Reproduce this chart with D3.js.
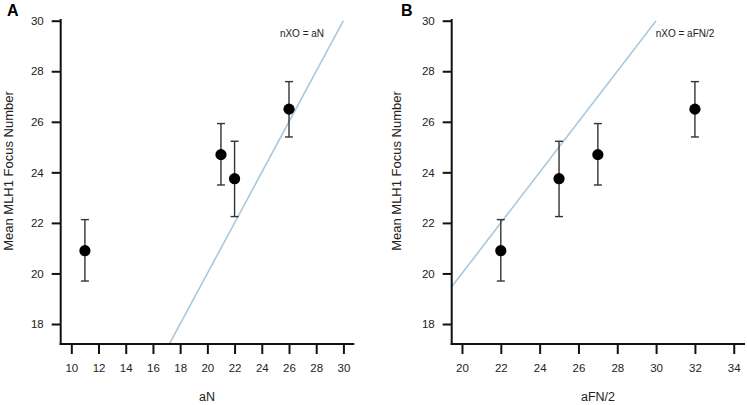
<!DOCTYPE html>
<html><head><meta charset="utf-8">
<script src="https://cdn.jsdelivr.net/npm/d3@7"></script>
<style>body{margin:0;background:#fff}svg{display:block;font-family:"Liberation Sans",Arial,sans-serif}</style>
</head><body><svg id="c" width="747" height="405"></svg>
<script>
// data
const meanFoci = [20.9, 24.7, 23.75, 26.5];
const errLow  = [19.7, 23.5, 22.25, 25.4];
const errHigh = [22.13, 25.93, 25.23, 27.59];
const aN      = [11, 21, 22, 26];
const aFNhalf = [22, 27, 25, 32];
const yTicks  = [18, 20, 22, 24, 26, 28, 30];
const xTicksA = [10, 12, 14, 16, 18, 20, 22, 24, 26, 28, 30];
const xTicksB = [20, 22, 24, 26, 28, 30, 32, 34];
const yDomain = [18, 30];
const xDomainA = [9.22, 30.8];
const xDomainB = [19.47, 34.58];
const lineA = [17.2, 30];
const lineB = [19.47, 30];

const svg = d3.select("#c");

function panel(o) {
  const g = svg.append("g");
  const x = d3.scaleLinear().domain(o.xDomain).range([o.left, o.right]);
  const y = d3.scaleLinear().domain(yDomain).range([324, 20.7]);

  // identity line
  g.append("line")
    .attr("x1", x(o.line[0])).attr("y1", y(o.line[0]))
    .attr("x2", x(o.line[1])).attr("y2", y(o.line[1]))
    .attr("stroke", "#a9c8dc").attr("stroke-width", 1.6);

  // y axis
  const yAxis = d3.axisLeft(y).tickValues(yTicks).tickSize(9).tickPadding(8);
  const ga = g.append("g").attr("transform", `translate(${o.left},0)`).call(yAxis);
  ga.select(".domain").remove();
  g.append("line").attr("x1", o.left).attr("x2", o.left).attr("y1", 19).attr("y2", 345)
    .attr("stroke", "#111").attr("stroke-width", 2);
  ga.selectAll(".tick line").attr("stroke", "#111").attr("stroke-width", 2);
  ga.selectAll(".tick text").attr("font-size", 11.5).attr("fill", "#222");

  // x axis
  const xAxis = d3.axisBottom(x).tickValues(o.xTicks).tickSize(10).tickPadding(10);
  const gx = g.append("g").attr("transform", "translate(0,344)").call(xAxis);
  gx.select(".domain").remove();
  g.append("line").attr("x1", o.left - 1).attr("x2", o.right).attr("y1", 344).attr("y2", 344)
    .attr("stroke", "#111").attr("stroke-width", 2);
  gx.selectAll(".tick line").attr("stroke", "#111").attr("stroke-width", 2);
  gx.selectAll(".tick text").attr("font-size", 11.5).attr("fill", "#222");

  // error bars and points
  d3.range(meanFoci.length).forEach(i => {
    const cx = x(o.xs[i]);
    g.append("line").attr("x1", cx).attr("x2", cx).attr("y1", y(errLow[i])).attr("y2", y(errHigh[i]))
      .attr("stroke", "#333").attr("stroke-width", 1.4);
    [errLow[i], errHigh[i]].forEach(v => {
      g.append("line").attr("x1", cx - 4).attr("x2", cx + 4).attr("y1", y(v)).attr("y2", y(v))
        .attr("stroke", "#333").attr("stroke-width", 1.4);
    });
    g.append("circle").attr("cx", cx).attr("cy", y(meanFoci[i])).attr("r", 5.6).attr("fill", "#000");
  });

  // texts
  g.append("text").attr("x", o.labelX).attr("y", 37).attr("text-anchor", "middle")
    .attr("font-size", 10).attr("fill", "#222").text(o.label);
  g.append("text").attr("x", o.titleX).attr("y", 401).attr("text-anchor", "middle")
    .attr("font-size", 12.5).attr("fill", "#222").text(o.xTitle);
  g.append("text").attr("transform", `translate(${o.yTitleX},171) rotate(-90)`).attr("text-anchor", "middle")
    .attr("font-size", 13).attr("fill", "#222").text("Mean MLH1 Focus Number");
  g.append("text").attr("x", o.letterX).attr("y", 16).attr("font-size", 16).attr("font-weight", "bold")
    .attr("fill", "#000").text(o.letter);
}

panel({left: 60.7, right: 354.3, xDomain: xDomainA, xTicks: xTicksA, xs: aN, line: lineA,
  label: "nXO = aN", labelX: 302, xTitle: "aN", titleX: 207, yTitleX: 13, letter: "A", letterX: 7});
panel({left: 451.7, right: 745, xDomain: xDomainB, xTicks: xTicksB, xs: aFNhalf, line: lineB,
  label: "nXO = aFN/2", labelX: 685, xTitle: "aFN/2", titleX: 598, yTitleX: 401, letter: "B", letterX: 401});
</script></body></html>
